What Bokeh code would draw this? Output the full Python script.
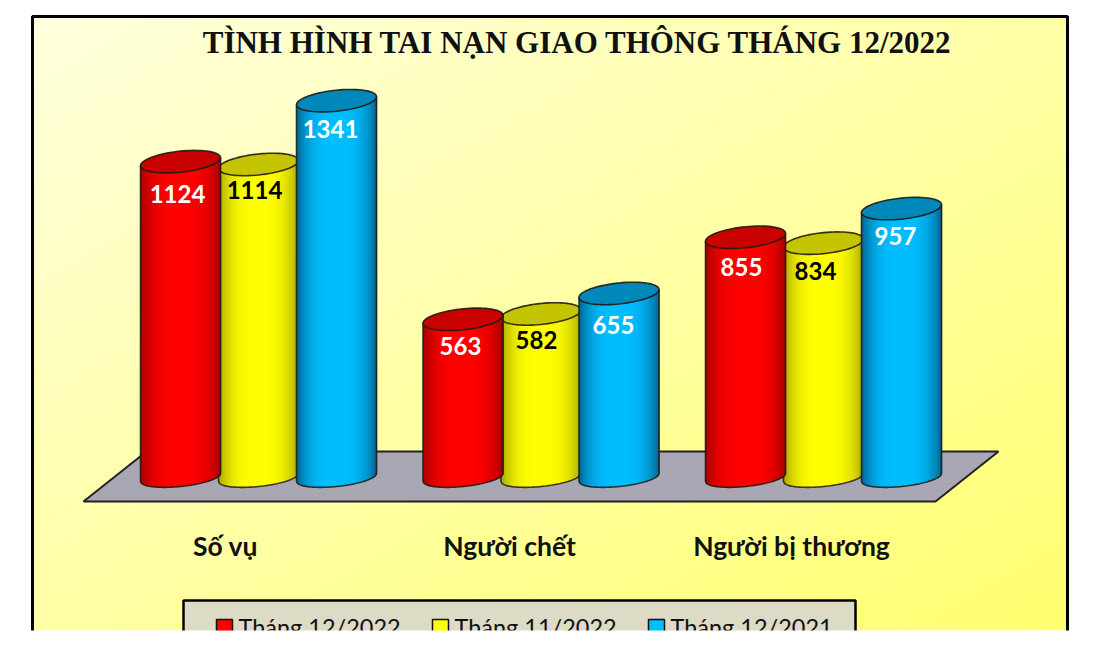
import numpy as np
from bokeh.plotting import figure
from bokeh.models import Range1d
from bokeh.core.properties import value
from bokeh.embed import file_html
from bokeh.resources import INLINE

title_text = "TÌNH HÌNH TAI NẠN GIAO THÔNG THÁNG 12/2022"
categories = ["Số vụ", "Người chết", "Người bị thương"]
series_names = ["Tháng 12/2022", "Tháng 11/2022", "Tháng 12/2021"]
thang_12_2022 = [1124, 563, 855]
thang_11_2022 = [1114, 582, 834]
thang_12_2021 = [1341, 655, 957]

# --- layout (picture pixels) ---
K = 0.281           # px per unit
ZERO = 477          # picture y of value 0
TOP_PX, BOT_PX = 0, 644
LEFT_PX, RIGHT_PX = 0, 1092
CUT_PX = 630
RX, RY, RY_BOTTOM, TILT = 40.0, 10.5, 9.0, -4.0
GROUP_X = [180, 462.5, 745]
STEP = 78
STYLES = [
    dict(edge=(165, 0, 0), mid=(255, 0, 0), cap="#c80000", label="white", order=1),
    dict(edge=(165, 165, 0), mid=(255, 255, 0), cap="#c4c400", label="black", order=0),
    dict(edge=(0, 100, 145), mid=(0, 190, 255), cap="#0088bb", label="white", order=2),
]

p = figure(width=RIGHT_PX - LEFT_PX, height=BOT_PX - TOP_PX,
           x_range=Range1d(LEFT_PX, RIGHT_PX),
           y_range=Range1d((ZERO - BOT_PX) / K, (ZERO - TOP_PX) / K),
           output_backend="svg", toolbar_location=None, min_border=0,
           background_fill_color="white", border_fill_color="white",
           outline_line_color=None)
p.axis.visible = False
p.grid.visible = False
p.extra_y_ranges = {"px": Range1d(BOT_PX, TOP_PX)}

# --- panel gradient ---
h, w = 154, 260
yy, xx = np.mgrid[0:h, 0:w]
d = (xx / (w - 1) + yy / (h - 1)) / 2
img = np.zeros((h, w), dtype=np.uint32)
view = img.view(dtype=np.uint8).reshape((h, w, 4))
view[..., 0] = 255
view[..., 1] = 255
view[..., 2] = (222 - 110 * d).astype(np.uint8)
view[..., 3] = 255
view[...] = view[::-1].copy()
p.image_rgba(image=[img], x=[31], y=[(ZERO - CUT_PX) / K], dw=[1036], dh=[(CUT_PX - 15) / K])

# frame
p.multi_line(xs=[[32, 32, 1067, 1067]], ys=[[CUT_PX + 10, 16, 16, CUT_PX + 10]], line_color="black",
             line_width=3, y_range_name="px")

# title
p.text(x=[577], y=[42], text=[title_text], text_font=value("Liberation Serif"), text_font_style="bold",
       text_font_size="31px", text_color="#111111", text_align="center", text_baseline="middle",
       y_range_name="px")

# floor
p.patch(x=[83, 146, 998, 935], y=[501, 451, 451, 501], fill_color="#aaa7b5", line_color="#222222",
        line_width=2, y_range_name="px")

# --- cylinders ---
def shade(t, edge, mid):
    f = 1 - abs(t) ** 3
    return "#%02x%02x%02x" % tuple(int(e + (m - e) * f) for e, m in zip(edge, mid))

series = [thang_12_2022, thang_11_2022, thang_12_2021]
n = 80
ts = np.linspace(-1, 1, n + 1)
tm = (ts[:-1] + ts[1:]) / 2
ang = np.linspace(0, 2 * np.pi, 73)
for g, group_x in enumerate(GROUP_X):
    for s in sorted(range(3), key=lambda i: STYLES[i]["order"]):
        st = STYLES[s]
        val = series[s][g]
        cx = group_x + s * STEP
        arc_edge = RY_BOTTOM * np.sqrt(np.clip(1 - ts ** 2, 0, 1))
        # opaque body first, so the floor cannot show between the slices
        bl = -(TILT * ts + arc_edge) / K
        bx = cx + RX * np.concatenate([[-1], ts, [1]])
        by = np.concatenate([[val + TILT / K], bl, [val - TILT / K]])
        p.patch(bx, by, fill_color="#%02x%02x%02x" % st["mid"], line_color=None)
        # shaded slices
        arc = RY_BOTTOM * np.sqrt(np.clip(1 - tm ** 2, 0, 1))
        tilt = TILT * tm
        p.quad(left=cx + RX * ts[:-1], right=cx + RX * ts[1:] + 0.6,
               top=val - tilt / K, bottom=0 - (tilt + arc) / K,
               fill_color=[shade(t, st["edge"], st["mid"]) for t in tm], line_color=None)
        p.line(bx, by, line_color="#201a10", line_width=1.6, line_alpha=0.85)
        # top cap
        ex = cx + RX * np.cos(ang)
        ey = val - (TILT * np.cos(ang) + RY * np.sin(ang)) / K
        p.patch(ex, ey, fill_color=st["cap"], line_color="#201a10", line_width=1.6, line_alpha=0.9)

# value labels
label_x = [[177, 460, 741], [254, 536, 815], [330, 613, 895]]
label_drop = [[32, 27, 30], [26, 26, 28], [28, 32, 27]]
for s, st in enumerate(STYLES):
    for g in range(3):
        p.text(x=[label_x[s][g]], y=[series[s][g]], text=[str(series[s][g])],
               y_offset=[label_drop[s][g]], text_font=value("Lato"), text_font_style="bold",
               text_font_size="24px", text_color=st["label"], text_align="center",
               text_baseline="middle")

# category labels
cat_x = [225, 509, 791]
for x, c in zip(cat_x, categories):
    p.text(x=[x], y=[545], text=[c], text_font=value("Lato"), text_font_style="bold",
           text_font_size="26.5px", text_color="#111111", text_align="center", text_baseline="middle",
           y_range_name="px")

# legend box
p.quad(left=[183], right=[855], top=[600], bottom=[CUT_PX + 10], fill_color="#dddac5", line_color="black",
       line_width=2.5, y_range_name="px")
mark_x = [216, 432, 648]
mark_c = ["#ff0000", "#ffff00", "#00bfff"]
for mx, c, name in zip(mark_x, mark_c, series_names):
    p.quad(left=[mx], right=[mx + 16], top=[619], bottom=[CUT_PX + 10], fill_color=c, line_color="#111111",
           line_width=1.5, y_range_name="px")
    p.text(x=[mx + 22], y=[626], text=[name], text_font=value("Lato"), text_font_size="23.5px",
           text_color="#111111", text_align="left", text_baseline="middle", y_range_name="px")

# the picture ends here: white strip over whatever runs below it
p.quad(left=[LEFT_PX], right=[RIGHT_PX], top=[CUT_PX], bottom=[BOT_PX], fill_color="white", line_color=None,
       y_range_name="px")

open("out.html", "w").write(file_html(p, INLINE))
